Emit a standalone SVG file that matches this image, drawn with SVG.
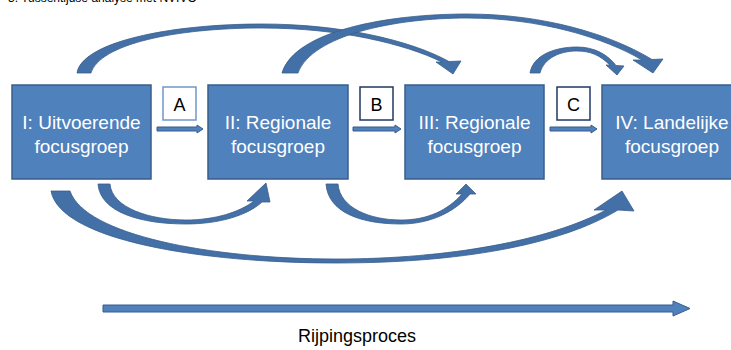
<svg xmlns="http://www.w3.org/2000/svg" width="731" height="350" viewBox="0 0 731 350">
<style>
.box{fill:#4f81bd;stroke:#385d8a;stroke-width:1.5}
.bt{font-family:"Liberation Sans",Arial,sans-serif;font-size:19px;fill:#ffffff;text-anchor:middle}
.lb{fill:#ffffff;stroke-width:1.5}
.lt{font-family:"Liberation Sans",Arial,sans-serif;font-size:18px;fill:#000000;text-anchor:middle}
.ca{fill:#4470a8;stroke:#385d8a;stroke-width:0.8}
.sa{fill:#4f81bd;stroke:#385d8a;stroke-width:1}
</style>
<rect width="731" height="350" fill="#ffffff"/>
<text x="8" y="2" font-family="Liberation Sans,Arial,sans-serif" font-size="12" fill="#000">3. Tussentijdse analyse met NVIVO</text>

<g id="connectors">
  <path id="arc-I-III-top" class="ca" d="M77,73 C82,42 170,24 262,24 C340,24 410,40 449,61.5 L461,61 L453,74 L436,62 L442,62 C405,44 340,28 262,28 C175,28 100,44 91,73 Z"/>
  <path id="arc-II-IV-top" class="ca" d="M282,73 C295,30 390,14 467,14 C545,14 612,35 652,59.5 L663,59 L653,73 L633,60 L642,60 C605,38 540,18 467,18 C395,18 312,35 298,73 Z"/>
  <path id="arc-III-IV-top" class="ca" d="M530,73 C533,55 555,47 577,47 C595,47 608,55 616,65.5 L624,66 L617,75 L606,65 L610,65.2 C600,55 590,51 577,51 C560,51 544,58 540,73 Z"/>
  <path id="arc-I-II-bottom" class="ca" d="M98,184 C100,212 140,224 186,224 C220,224 248,215 262,202 L270,202 L266,183 L247,201 L254,201 C240,212 215,220 186,220 C150,220 112,208 110,184 Z"/>
  <path id="arc-II-III-bottom" class="ca" d="M326,184 C328,212 360,224 401,224 C430,224 455,212 470,194 L476,194 L466,184 L456,194 L462,194 C448,210 428,220 401,220 C370,220 340,208 338,184 Z"/>
  <path id="arc-I-IV-bottom" class="ca" d="M51,191 C60,240 200,263 336,263 C460,263 560,245 618,210 L634,211 L622,191 L594,210 L606,210 C550,240 450,259 336,259 C210,259 85,235 70,191 Z"/>
  <path id="arrow-A" class="sa" d="M157,127 L197,127 L197,125 L203,129 L197,133 L197,131 L157,131 Z"/>
  <path id="arrow-B" class="sa" d="M353,127 L395,127 L395,125 L401,129 L395,133 L395,131 L353,131 Z"/>
  <path id="arrow-C" class="sa" d="M550,127 L591,127 L591,125 L597,129 L591,133 L591,131 L550,131 Z"/>
  <path id="arrow-rijping" class="sa" d="M103,305 L673,305 L673,301 L690,308.5 L673,316 L673,312 L103,312 Z"/>
</g>

<g id="label-A"><rect class="lb" x="163" y="87" width="33" height="33" stroke="#6f97cc"/><text class="lt" x="179.5" y="111">A</text></g>
<g id="label-B"><rect class="lb" x="360" y="87" width="33" height="33" stroke="#1f3864"/><text class="lt" x="376.5" y="111">B</text></g>
<g id="label-C"><rect class="lb" x="557" y="87" width="33" height="33" stroke="#1f3864"/><text class="lt" x="573.5" y="111">C</text></g>

<g id="node-I"><rect class="box" x="12" y="85" width="139" height="94"/><text class="bt" x="81.5" y="129">I: Uitvoerende</text><text class="bt" x="81.5" y="153">focusgroep</text></g>
<g id="node-II"><rect class="box" x="208" y="85" width="140" height="94"/><text class="bt" x="278" y="129">II: Regionale</text><text class="bt" x="278" y="153">focusgroep</text></g>
<g id="node-III"><rect class="box" x="405" y="85" width="139" height="94"/><text class="bt" x="474.5" y="129">III: Regionale</text><text class="bt" x="474.5" y="153">focusgroep</text></g>
<g id="node-IV"><rect class="box" x="602" y="85" width="140" height="94"/><text class="bt" x="672" y="129">IV: Landelijke</text><text class="bt" x="672" y="153">focusgroep</text></g>

<text id="caption" x="357" y="342" font-family="Liberation Sans,Arial,sans-serif" font-size="18" fill="#000" text-anchor="middle">Rijpingsproces</text>
</svg>
